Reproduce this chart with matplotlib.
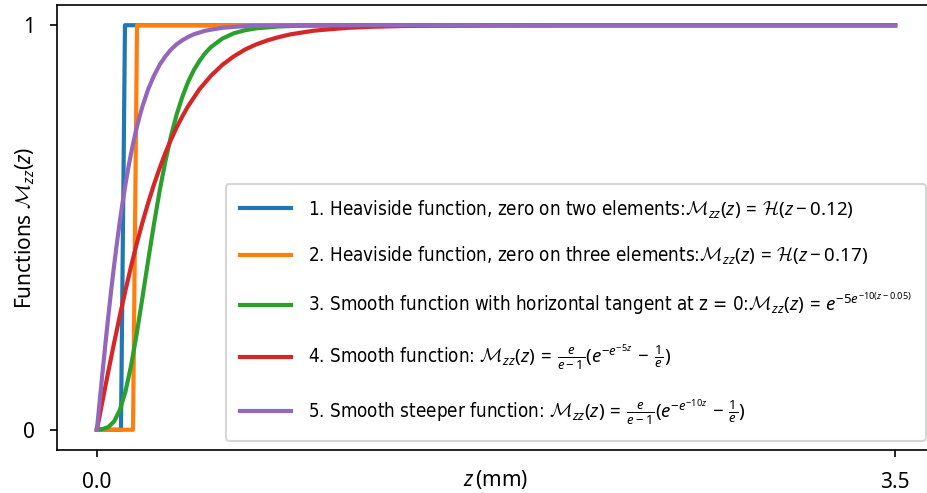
import os
import matplotlib
matplotlib.use('Agg')
import matplotlib.pyplot as plt
from matplotlib import font_manager

plt.rcParams['font.family'] = ['Noto Sans', 'DejaVu Sans']
plt.rcParams['font.size'] = 10
plt.rcParams['mathtext.fontset'] = 'custom'
plt.rcParams['mathtext.rm'] = 'Noto Sans'
plt.rcParams['mathtext.it'] = 'Noto Sans:italic'
plt.rcParams['mathtext.bf'] = 'Noto Sans:bold'
plt.rcParams['mathtext.cal'] = 'cmsy10'

# Heaviside steps (sampled, so the jump spans one grid step)
z_step1 = [0.0, 0.1055, 0.1231, 3.5]
m_step1 = [0.0, 0.0, 1.0, 1.0]
z_step2 = [0.0, 0.1583, 0.1759, 3.5]
m_step2 = [0.0, 0.0, 1.0, 1.0]

# smooth with horizontal tangent at z = 0
z_tan = [0, .025, .05, .075, .1, .125, .15, .175, .2, .225, .25, .275, .3,
         .325, .35, .375, .4, .425, .45, .475, .5, .55, .6, .65, .7, .8, .9,
         1.0, 1.5, 3.5]
m_tan = [.0003, .0016, .0067, .0204, .0482, .0942, .159, .2387, .328, .4194,
         .508, .5904, .663, .7265, .780, .8237, .860, .8891, .912, .9312,
         .946, .967, .980, .9877, .9925, .997, .999, .9996, 1.0, 1.0]

# smooth
z_smooth = [0, .025, .05, .075, .1, .125, .15, .175, .2, .225, .25, .275,
            .3, .325, .35, .375, .4, .45, .5, .55, .6, .65, .7, .75, .8, .85,
            .9, .95, 1.0, 1.1, 1.2, 1.35, 1.5, 1.75, 2.0, 2.5, 3.5]
m_smooth = [0, .0725, .1441, .2136, .2807, .3443, .4044, .4607, .513, .5615,
            .606, .6466, .684, .7173, .748, .7751, .800, .842, .875, .902,
            .923, .940, .953, .963, .971, .9776, .982, .9864, .989, .9936,
            .996, .9982, .999, .9997, 1.0, 1.0, 1.0]

# smooth, steeper
z_steep = [0, .0125, .025, .0375, .05, .0625, .075, .0875, .1, .1125, .125,
           .1375, .15, .1625, .175, .1875, .2, .225, .25, .275, .3, .325,
           .35, .375, .4, .425, .45, .475, .5, .55, .6, .675, .75, .875,
           1.0, 1.25, 3.5]
m_steep = [0, .0725, .1441, .2136, .2807, .3443, .4044, .4607, .513, .5615,
           .606, .6466, .684, .7173, .748, .7751, .800, .842, .875, .902,
           .923, .940, .953, .963, .971, .9776, .982, .9864, .989, .9936,
           .996, .9982, .999, .9997, 1.0, 1.0, 1.0]

labels = [
    r'1. Heaviside function, zero on two elements:$\mathcal{M}_{zz}(z)\,=\,\mathcal{H}(z-0.12)$',
    r'2. Heaviside function, zero on three elements:$\mathcal{M}_{zz}(z)\,=\,\mathcal{H}(z-0.17)$',
    r'3. Smooth function with horizontal tangent at z = 0:$\mathcal{M}_{zz}(z)\,=\,e^{-5e^{-10(z-0.05)}}$',
    r'4. Smooth function: $\mathcal{M}_{zz}(z)\,=\,\frac{e}{e-1}(e^{-e^{-5z}}\,-\,\frac{1}{e})$',
    r'5. Smooth steeper function: $\mathcal{M}_{zz}(z)\,=\,\frac{e}{e-1}(e^{-e^{-10z}}\,-\,\frac{1}{e})$',
]


def narrow_font(size):
    # a condensed sans for the long legend entries, if one is installed
    found = {}
    for f in font_manager.fontManager.ttflist:
        base = os.path.basename(f.fname).lower()
        if f.style != 'normal' or 'bold' in base or 'light' in base:
            continue
        if 'narrow' in base or 'condensed' in base:
            found[base] = f.fname
    for key in ['liberationsansnarrow-regular.ttf', 'dejavusanscondensed.ttf']:
        if key in found:
            return font_manager.FontProperties(fname=found[key], size=size)
    for base in sorted(found):
        if 'regular' in base or 'medium' not in base:
            return font_manager.FontProperties(fname=found[base], size=size)
    return font_manager.FontProperties(family='Liberation Sans', size=size - 1)


fig = plt.figure(figsize=(6.18, 3.2867), dpi=150)
ax = fig.add_axes([57 / 927, 43 / 493, 878 / 927, 445 / 493])

lw = 2
ax.plot(z_step1, m_step1, lw=lw, label=labels[0])
ax.plot(z_step2, m_step2, lw=lw, label=labels[1])
ax.plot(z_tan, m_tan, lw=lw, label=labels[2])
ax.plot(z_smooth, m_smooth, lw=lw, label=labels[3])
ax.plot(z_steep, m_steep, lw=lw, label=labels[4])

ax.set_xlim(-0.175, 3.675)
ax.set_ylim(-0.05, 1.05)
ax.set_xticks([0, 3.5])
ax.set_xticklabels(['0.0', '3.5'])
ax.set_yticks([0, 1])
ax.set_yticklabels(['0', '1'])
ax.tick_params(pad=7)
ax.set_xlabel(r'$z\,$(mm)')
ax.set_ylabel(r'Functions $\mathcal{M}_{zz}(z)$')
ax.xaxis.set_label_coords(0.5, -0.04)
ax.yaxis.set_label_coords(-0.023, 0.5)

ax.legend(loc='lower right', handlelength=2.72, handletextpad=0.9,
          labelspacing=1.3, borderpad=0.75, prop=narrow_font(9))

fig.savefig('out.png', dpi=150)
